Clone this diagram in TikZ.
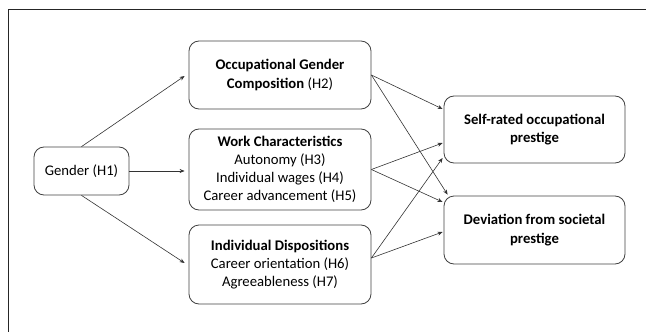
\documentclass[tikz,border=0pt]{standalone}
\usepackage{fontspec}
\setmainfont{Carlito}
\usetikzlibrary{arrows.meta}
\begin{document}
\begin{tikzpicture}[x=1pt,y=-1pt,
  box/.style={draw=black!75, line width=0.8pt, rounded corners=10pt, align=center,
    font=\fontsize{14.7}{18.2}\selectfont, inner sep=0pt},
  link/.style={draw=black!80, line width=0.6pt, -{Stealth[length=5pt,width=4pt]}},
  frameline/.style={draw=black!85, line width=1.6pt}]
\useasboundingbox (0,0) rectangle (646,332);
% partial frame
\draw[frameline] (8.5,332) -- (8.5,9.5) -- (646,9.5);

\node[box, minimum width=95pt, minimum height=48pt] (gen) at (81.5,171) {Gender (H1)};
\node[box, minimum width=182pt, minimum height=68pt] (occ) at (280,75)
  {\textbf{Occupational Gender}\\\textbf{Composition} (H2)};
\node[box, minimum width=182pt, minimum height=81pt] (work) at (280,169.5)
  {\textbf{Work Characteristics}\\Autonomy (H3)\\Individual wages (H4)\\Career advancement (H5)};
\node[box, minimum width=182pt, minimum height=79pt] (ind) at (280,264.5)
  {\textbf{Individual Dispositions}\\Career orientation (H6)\\Agreeableness (H7)};
\node[box, minimum width=181pt, minimum height=67pt] (self) at (534.5,129.5)
  {\textbf{Self-rated occupational}\\\textbf{prestige}};
\node[box, minimum width=181pt, minimum height=68pt] (dev) at (534.5,230)
  {\textbf{Deviation from societal}\\\textbf{prestige}};

% paths from gender to the mediators
\draw[link] (gen.north) -- ([xshift=-4pt,yshift=-1pt]occ.west);
\draw[link] (gen.east) -- ([xshift=-4pt,yshift=-1.5pt]work.west);
\draw[link] (gen.south) -- ([xshift=-4pt,yshift=1.5pt]ind.west);

% paths from the mediators to the outcomes
\draw[link] (occ.east) -- ([xshift=-1pt,yshift=20.5pt]self.west);
\draw[link] (occ.east) -- ([xshift=4pt,yshift=1pt]dev.north west);
\draw[link] (work.east) -- ([xshift=-1pt,yshift=-13.5pt]self.west);
\draw[link] (work.east) -- ([xshift=-1pt,yshift=28pt]dev.west);
\draw[link] ([yshift=6.5pt]ind.east) -- ([xshift=-1pt,yshift=-28.5pt]self.west);
\draw[link] ([yshift=6.5pt]ind.east) -- ([xshift=-1pt,yshift=-2pt]dev.west);
\end{tikzpicture}
\end{document}
